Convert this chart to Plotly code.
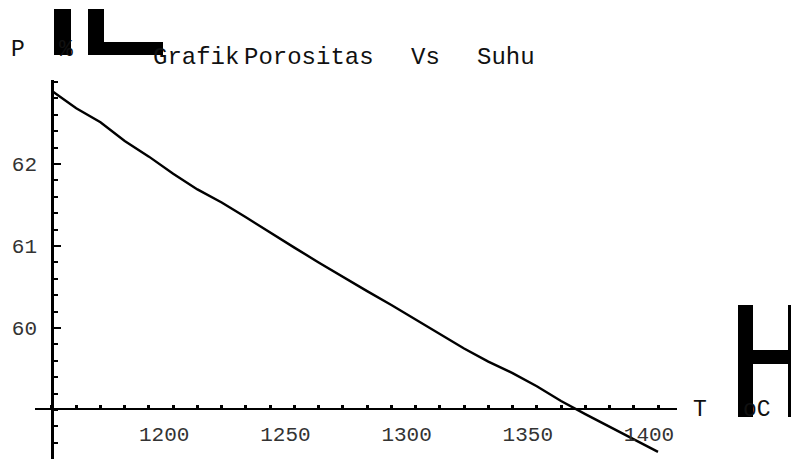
import plotly.graph_objects as go

# ---- data ----
T_values = [1150, 1160, 1170, 1180, 1190, 1200, 1210, 1220, 1230, 1240, 1250, 1260, 1270,
            1280, 1290, 1300, 1310, 1320, 1330, 1340, 1350, 1360, 1370, 1380, 1390, 1400]
P_values = [62.89, 62.68, 62.51, 62.28, 62.09, 61.88, 61.69, 61.53, 61.35, 61.16, 60.98, 60.80, 60.62,
            60.45, 60.28, 60.10, 59.93, 59.75, 59.59, 59.45, 59.29, 59.11, 58.95, 58.80, 58.64, 58.49]
x_tick_vals = [1200, 1250, 1300, 1350, 1400]
x_tick_text = ["1200", "1250", "1300", "1350", "1400"]
y_tick_vals = [60, 61, 62]
y_tick_text = ["60", "61", "62"]
title_words = ["Grafik", "Porositas", "Vs", "Suhu"]
y_label = ["P", "%"]
x_label = ["T", "oC"]

W, H = 791, 459
MONO = "Liberation Mono, Courier New, monospace"


def px(x):
    return x / W


def py(y):
    return 1 - y / H


fig = go.Figure()
fig.add_trace(go.Scatter(x=T_values, y=P_values, mode="lines",
                         line=dict(color="black", width=2.4), showlegend=False,
                         hoverinfo="skip"))

fig.update_layout(
    width=W, height=H,
    margin=dict(l=0, r=0, t=0, b=0),
    paper_bgcolor="white", plot_bgcolor="white",
    font=dict(family=MONO, color="black"),
    xaxis=dict(
        domain=[px(35), px(677)],
        range=[1142.99, 1407.84],
        anchor="free", position=py(409),
        showline=True, linecolor="black", linewidth=2,
        showgrid=False, zeroline=False,
        tickmode="array", tickvals=x_tick_vals, ticktext=x_tick_text,
        ticks="inside", ticklen=3, tickwidth=3, tickcolor="black",
        minor=dict(tickmode="linear", tick0=1150, dtick=10, ticks="inside",
                   ticklen=3, tickwidth=3, tickcolor="black", showgrid=False),
        tickfont=dict(family=MONO, size=21, color="#333"),
        ticklabelshift=-9,
        ticklabelstandoff=6,
    ),
    yaxis=dict(
        domain=[0, py(80)],
        range=[58.4024, 63.0244],
        anchor="free", position=px(52),
        showline=True, linecolor="black", linewidth=2.5,
        showgrid=False, zeroline=False,
        tickmode="array", tickvals=y_tick_vals, ticktext=y_tick_text,
        ticks="inside", ticklen=7, tickwidth=2, tickcolor="black",
        minor=dict(tickmode="linear", tick0=58.4, dtick=0.2, ticks="inside",
                   ticklen=4, tickwidth=2, tickcolor="black", showgrid=False),
        tickfont=dict(family=MONO, size=21, color="#333"),
        ticklabelstandoff=10,
    ),
)

annotations = []
# title words
for word, x0 in zip(title_words, [151, 242, 409, 475]):
    annotations.append(dict(text=word, xref="paper", yref="paper", x=px(x0), y=py(57),
                            xanchor="left", yanchor="middle", showarrow=False,
                            font=dict(family=MONO, size=24, color="#111")))
# axis labels
annotations.append(dict(text=y_label[0], xref="paper", yref="paper", x=px(9), y=py(50),
                        xanchor="left", yanchor="middle", showarrow=False,
                        font=dict(family=MONO, size=23, color="#111")))
annotations.append(dict(text=y_label[1], xref="paper", yref="paper", x=px(57), y=py(50),
                        xanchor="left", yanchor="middle", showarrow=False,
                        font=dict(family=MONO, size=23, color="#111")))
annotations.append(dict(text=x_label[0], xref="paper", yref="paper", x=px(691), y=py(410),
                        xanchor="left", yanchor="middle", showarrow=False,
                        font=dict(family=MONO, size=23, color="#111")))
annotations.append(dict(text=x_label[1], xref="paper", yref="paper", x=px(741), y=py(410),
                        xanchor="left", yanchor="middle", showarrow=False,
                        font=dict(family=MONO, size=23, color="#111")))
fig.update_layout(annotations=annotations)

# big black glyph artefacts
blocks = [
    (54, 9, 71, 55),     # top-left bar
    (88, 9, 104, 55),    # L stem
    (88, 42, 163, 55),   # L foot
    (738, 305, 753, 417),  # H left stem
    (753, 350, 791, 364),  # H crossbar
    (788, 305, 791, 417),  # H right stem
]
shapes = []
for x0, y0, x1, y1 in blocks:
    shapes.append(dict(type="rect", xref="paper", yref="paper",
                       x0=px(x0), x1=px(x1), y0=py(y1), y1=py(y0),
                       fillcolor="black", line=dict(width=0), layer="above"))
fig.update_layout(shapes=shapes)

fig.write_html("out.html",
               config={"displayModeBar": False},
               post_script="document.body.style.margin='0';document.body.style.overflow='hidden';")
